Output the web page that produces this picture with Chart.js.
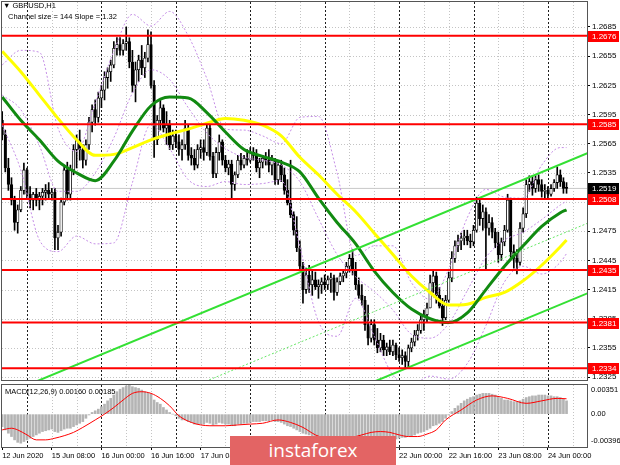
<!DOCTYPE html>
<html>
<head>
<meta charset="utf-8">
<title>GBPUSD,H1</title>
<script src="https://cdn.jsdelivr.net/npm/chart.js@4.4.1/dist/chart.umd.min.js"></script>
<style>
  html, body { margin: 0; padding: 0; background: #fff; }
  #wrap { position: relative; width: 620px; height: 465px; overflow: hidden; background: #fff; }
  canvas { position: absolute; left: 0; }
  #main { top: 0; }
  #macd { top: 383px; }
  .txt { position: absolute; font: 7.5px "Liberation Sans", Arial, sans-serif; color: #000; white-space: nowrap; line-height: 9px; }
  #logo { position: absolute; left: 230px; top: 436px; width: 166px; height: 29px; background: #e36464;
          color: #fff; font: 19px "Open Sans", "Liberation Sans", sans-serif; text-align: center; line-height: 28px; }
</style>
</head>
<body>
<div id="wrap">
  <canvas id="main" width="620" height="382"></canvas>
  <canvas id="macd" width="620" height="82"></canvas>
  <div class="txt" style="left:3px;top:1px">▼ GBPUSD,H1</div>
  <div class="txt" style="left:8px;top:12px">Channel size = 144 Slope = 1.32</div>
  <div class="txt" style="left:5px;top:387px">MACD(12,26,9) 0.00160 0.00185</div>
  <div id="logo">instaforex</div>
</div>
<script>
/* ============ DATA (GBPUSD H1, 12 Jun 16:00 -> 24 Jun 06:00) ============ */
const opens = [
1.2589,1.2574,1.2540,1.2523,1.2507,1.2484,1.2497,1.2517,1.2538,1.2513,
1.2507,1.2513,1.2507,1.2511,1.2515,1.2517,1.2513,1.2515,1.2468,1.2474,
1.2505,1.2538,1.2513,1.2538,1.2559,1.2569,1.2559,1.2548,1.2564,1.2587,
1.2600,1.2592,1.2612,1.2620,1.2633,1.2639,1.2646,1.2663,1.2667,1.2661,
1.2668,1.2670,1.2649,1.2625,1.2641,1.2651,1.2643,1.2653,1.2667,1.2625,
1.2569,1.2589,1.2602,1.2581,1.2584,1.2564,1.2573,1.2567,1.2559,1.2564,
1.2581,1.2553,1.2550,1.2543,1.2559,1.2561,1.2556,1.2581,1.2552,1.2534,
1.2556,1.2567,1.2548,1.2540,1.2544,1.2523,1.2533,1.2548,1.2543,1.2550,
1.2548,1.2556,1.2553,1.2540,1.2546,1.2550,1.2548,1.2543,1.2548,1.2528,
1.2543,1.2533,1.2517,1.2504,1.2492,1.2476,1.2458,1.2439,1.2415,1.2430,
1.2420,1.2425,1.2418,1.2420,1.2423,1.2420,1.2425,1.2427,1.2412,1.2423,
1.2429,1.2432,1.2439,1.2447,1.2435,1.2420,1.2409,1.2404,1.2379,1.2365,
1.2379,1.2363,1.2355,1.2363,1.2353,1.2356,1.2351,1.2358,1.2348,1.2345,
1.2347,1.2341,1.2355,1.2361,1.2368,1.2373,1.2384,1.2389,1.2396,1.2422,
1.2429,1.2409,1.2398,1.2386,1.2404,1.2427,1.2447,1.2460,1.2465,1.2468,
1.2470,1.2465,1.2464,1.2476,1.2504,1.2488,1.2495,1.2478,1.2484,1.2474,
1.2463,1.2451,1.2464,1.2476,1.2507,1.2454,1.2447,1.2443,1.2478,1.2493,
1.2523,1.2526,1.2519,1.2528,1.2523,1.2516,1.2517,1.2513,1.2519,1.2525,
1.2533,1.2526,1.2519];
const highs = [
1.2598,1.2579,1.2550,1.2530,1.2511,1.2502,1.2521,1.2545,1.2540,1.2521,
1.2515,1.2519,1.2515,1.2519,1.2523,1.2525,1.2519,1.2519,1.2481,1.2509,
1.2543,1.2546,1.2543,1.2564,1.2574,1.2579,1.2564,1.2569,1.2592,1.2605,
1.2610,1.2618,1.2625,1.2639,1.2643,1.2651,1.2670,1.2674,1.2674,1.2672,
1.2685,1.2674,1.2661,1.2649,1.2656,1.2666,1.2659,1.2682,1.2680,1.2630,
1.2594,1.2610,1.2605,1.2598,1.2589,1.2579,1.2579,1.2574,1.2569,1.2589,
1.2584,1.2561,1.2559,1.2564,1.2569,1.2569,1.2586,1.2584,1.2556,1.2561,
1.2574,1.2569,1.2553,1.2548,1.2548,1.2536,1.2553,1.2555,1.2553,1.2559,
1.2561,1.2561,1.2559,1.2550,1.2553,1.2556,1.2559,1.2553,1.2550,1.2546,
1.2548,1.2540,1.2528,1.2548,1.2495,1.2490,1.2465,1.2443,1.2437,1.2440,
1.2435,1.2433,1.2425,1.2427,1.2430,1.2429,1.2432,1.2430,1.2427,1.2432,
1.2435,1.2443,1.2451,1.2456,1.2443,1.2427,1.2420,1.2408,1.2399,1.2384,
1.2384,1.2375,1.2370,1.2368,1.2360,1.2363,1.2363,1.2360,1.2355,1.2353,
1.2351,1.2358,1.2365,1.2373,1.2379,1.2388,1.2394,1.2401,1.2430,1.2435,
1.2433,1.2417,1.2406,1.2409,1.2433,1.2454,1.2465,1.2471,1.2473,1.2476,
1.2476,1.2472,1.2481,1.2510,1.2509,1.2502,1.2499,1.2492,1.2489,1.2478,
1.2474,1.2468,1.2481,1.2513,1.2509,1.2461,1.2456,1.2484,1.2499,1.2528,
1.2532,1.2532,1.2532,1.2533,1.2528,1.2523,1.2521,1.2523,1.2528,1.2541,
1.2538,1.2530,1.2525];
const lows = [
1.2569,1.2536,1.2517,1.2502,1.2476,1.2473,1.2495,1.2513,1.2509,1.2499,
1.2497,1.2501,1.2497,1.2502,1.2507,1.2509,1.2507,1.2456,1.2456,1.2470,
1.2502,1.2507,1.2507,1.2533,1.2540,1.2548,1.2540,1.2543,1.2559,1.2577,
1.2584,1.2587,1.2602,1.2610,1.2622,1.2629,1.2643,1.2656,1.2656,1.2656,
1.2661,1.2643,1.2618,1.2608,1.2629,1.2636,1.2633,1.2649,1.2622,1.2551,
1.2564,1.2579,1.2577,1.2564,1.2559,1.2559,1.2561,1.2553,1.2548,1.2559,
1.2548,1.2543,1.2538,1.2540,1.2550,1.2548,1.2553,1.2548,1.2530,1.2530,
1.2548,1.2543,1.2536,1.2533,1.2509,1.2517,1.2530,1.2538,1.2540,1.2543,
1.2546,1.2548,1.2536,1.2530,1.2540,1.2543,1.2536,1.2533,1.2523,1.2523,
1.2526,1.2513,1.2502,1.2489,1.2471,1.2454,1.2435,1.2401,1.2411,1.2412,
1.2409,1.2415,1.2406,1.2411,1.2415,1.2415,1.2412,1.2404,1.2409,1.2420,
1.2423,1.2427,1.2433,1.2430,1.2415,1.2406,1.2399,1.2373,1.2358,1.2361,
1.2358,1.2350,1.2351,1.2347,1.2347,1.2348,1.2347,1.2343,1.2341,1.2338,
1.2334,1.2334,1.2351,1.2357,1.2363,1.2370,1.2373,1.2382,1.2396,1.2412,
1.2401,1.2396,1.2378,1.2384,1.2402,1.2423,1.2443,1.2454,1.2456,1.2461,
1.2461,1.2458,1.2460,1.2474,1.2481,1.2476,1.2435,1.2471,1.2468,1.2458,
1.2443,1.2445,1.2460,1.2474,1.2448,1.2437,1.2431,1.2440,1.2474,1.2489,
1.2516,1.2512,1.2515,1.2516,1.2510,1.2509,1.2509,1.2511,1.2516,1.2519,
1.2521,1.2514,1.2514];
const closes = [
1.2574,1.2540,1.2523,1.2507,1.2484,1.2497,1.2517,1.2538,1.2513,1.2507,
1.2513,1.2507,1.2511,1.2515,1.2517,1.2513,1.2515,1.2468,1.2474,1.2505,
1.2538,1.2513,1.2538,1.2559,1.2569,1.2559,1.2548,1.2564,1.2587,1.2600,
1.2592,1.2612,1.2620,1.2633,1.2639,1.2646,1.2663,1.2667,1.2661,1.2668,
1.2670,1.2649,1.2625,1.2641,1.2651,1.2643,1.2653,1.2667,1.2625,1.2569,
1.2589,1.2602,1.2581,1.2584,1.2564,1.2573,1.2567,1.2559,1.2564,1.2581,
1.2553,1.2550,1.2543,1.2559,1.2561,1.2556,1.2581,1.2552,1.2534,1.2556,
1.2567,1.2548,1.2540,1.2544,1.2523,1.2533,1.2548,1.2543,1.2550,1.2548,
1.2556,1.2553,1.2540,1.2546,1.2550,1.2548,1.2543,1.2548,1.2528,1.2543,
1.2533,1.2517,1.2504,1.2492,1.2476,1.2458,1.2439,1.2415,1.2430,1.2420,
1.2425,1.2418,1.2420,1.2423,1.2420,1.2425,1.2427,1.2412,1.2423,1.2429,
1.2432,1.2439,1.2447,1.2435,1.2420,1.2409,1.2404,1.2379,1.2365,1.2379,
1.2363,1.2355,1.2363,1.2353,1.2356,1.2351,1.2358,1.2348,1.2345,1.2347,
1.2341,1.2355,1.2361,1.2368,1.2373,1.2384,1.2389,1.2396,1.2422,1.2429,
1.2409,1.2398,1.2386,1.2404,1.2427,1.2447,1.2460,1.2465,1.2468,1.2470,
1.2465,1.2464,1.2476,1.2504,1.2488,1.2495,1.2478,1.2484,1.2474,1.2463,
1.2451,1.2464,1.2476,1.2507,1.2454,1.2447,1.2443,1.2478,1.2493,1.2523,
1.2526,1.2519,1.2528,1.2523,1.2516,1.2517,1.2513,1.2519,1.2525,1.2533,
1.2526,1.2519,1.2519];

const maBars   = [0,6,12,18,24,30,36,42,48,54,60,66,72,78,84,90,96,102,108,114,120,126,132,138,144,150,156,162,168,174,180,182];
const maGreen  = [1.2613,1.2589,1.2569,1.2547,1.2535,1.2527,1.2547,1.2578,1.2604,1.2613,1.2612,1.2597,1.2577,1.2559,1.2552,1.2546,
                  1.2536,1.2509,1.2484,1.2462,1.2434,1.2412,1.2395,1.2385,1.2381,1.2391,1.2415,1.2439,1.2460,1.2480,1.2494,1.2497];
const maYellow = [1.2660,1.2639,1.2615,1.2591,1.2569,1.2553,1.2554,1.2561,1.2569,1.2575,1.2580,1.2586,1.2591,1.2589,1.2584,1.2573,
                  1.2551,1.2533,1.2513,1.2495,1.2473,1.2451,1.2429,1.2412,1.2399,1.2400,1.2407,1.2412,1.2424,1.2440,1.2459,1.2466];
const bbUpper  = [1.2646,1.2661,1.2659,1.2581,1.2557,1.2607,1.2660,1.2698,1.2686,1.2701,1.2676,1.2632,1.2580,1.2579,1.2573,1.2565,
                  1.2592,1.2593,1.2535,1.2450,1.2460,1.2460,1.2422,1.2405,1.2436,1.2489,1.2518,1.2510,1.2509,1.2543,1.2561,1.2561];
const bbMiddle = [1.2615,1.2600,1.2563,1.2516,1.2516,1.2535,1.2571,1.2617,1.2641,1.2631,1.2602,1.2576,1.2560,1.2551,1.2548,1.2543,
                  1.2526,1.2488,1.2451,1.2428,1.2413,1.2394,1.2369,1.2365,1.2380,1.2414,1.2448,1.2466,1.2474,1.2487,1.2502,1.2506];
const bbLower  = [1.2584,1.2538,1.2466,1.2454,1.2470,1.2462,1.2463,1.2525,1.2585,1.2560,1.2528,1.2521,1.2526,1.2523,1.2524,1.2527,
                  1.2459,1.2382,1.2367,1.2406,1.2367,1.2327,1.2317,1.2326,1.2323,1.2339,1.2378,1.2423,1.2439,1.2431,1.2443,1.2452];

// regression channel (144 pips wide, slope 1.32 pips/bar)
const channelBars  = [0, 189];
const channelUpper = [1.2306, 1.25555];
const channelMid   = [1.2234, 1.24835];
const channelLower = [1.2162, 1.24115];

const levels = [1.2676, 1.2585, 1.2508, 1.2435, 1.2381, 1.2334];
const bid = 1.2519;

// MACD(12,26,9), in units of 0.0001
const macdHist = [
-15,-19,-23,-27,-31,-34,-35,-33,-31,-29,
-27,-25,-23,-21,-20,-19,-18,-21,-22,-20,
-18,-17,-17,-15,-13,-11,-9,-5,-1,2,
4,6,9,12,16,19,23,27,30,32,
34,35.1,33,32,31,29,27,26,24,17,
14,12,8,5,2,0,-2,-5,-7,-7,
-9,-10,-12,-12,-12,-12,-10,-11,-13,-12,
-10,-11,-12,-12,-14,-14,-12,-12,-11,-11,
-10,-9,-9,-9,-8,-8,-8,-7,-9,-9,
-10,-12,-14,-15,-17,-19,-21,-23,-24,-25,
-26,-27,-30,-32,-35,-37,-38,-39.6,-39,-37,
-35,-32,-29,-27,-26,-26,-27,-29,-31,-31,
-32,-33,-33,-33,-32,-32,-31,-30,-29,-28,
-28,-27,-26,-25,-23,-22,-21,-19,-17,-14,
-13,-11,-9,-5,-1,3,7,10,13,16,
18,20,21,23,24,25,25,25,24,23,
21,19,17,17,16,15,15,16,18,20,
21,22,22,23,23,23,22,22,21,21,
20,18,16];
const signalBars = [0,3,5,8,11,14,17,20,23,26,30,33,36,39,42,45,48,51,54,57,61,64,67,72,76,80,84,89,93,97,
                    101,104,107,110,113,116,119,122,125,128,131,134,137,140,143,148,153,158,163,169,174,179,182];
const macdSignal = [-19,-17,-19,-25,-31,-31,-29,-26,-22,-16,-7,0,8,17,25,27,25,19,10,-2,-10,-13,-14,-14,-13,-12,-11,-7,-10,-16,
                    -25,-29,-31,-31,-28,-25,-22,-21,-22,-25,-27,-27,-24,-19,-7,5,17,22,19,13,16,19,18.5];

// axes
const priceTicks = [1.2685,1.2655,1.2625,1.2595,1.2565,1.2535,1.2505,1.2475,1.2445,1.2415,1.2385,1.2355,1.2325];
const macdTicks = [0.00351, 0, -0.00396];
const macdTickLabels = ['0.00351', '0.00', '-0.00396'];
const labelBars = [0,16,32,48,64,80,96,112,128,144,160,176];
const timeLabels = ['12 Jun 2020','15 Jun 08:00','16 Jun 00:00','16 Jun 16:00','17 Jun 08:00','18 Jun 00:00',
                    '18 Jun 16:00','19 Jun 08:00','22 Jun 00:00','22 Jun 16:00','23 Jun 08:00','24 Jun 00:00'];
const gridBars = [16,24,40,48,64,72,88,96,112,120,136,144,160,168,184];
const daySeps = [8,32,56,80,104,128,152,176];

/* ===================== CHARTS ===================== */
const FONT = '"Liberation Sans", Arial, sans-serif';
Chart.defaults.font.family = FONT;
const X_MIN = -0.06, X_MAX = 188.6;
const P_MIN = 1.23220, P_MAX = 1.27107;
const M_MIN = -0.00396, M_MAX = 0.00351;
const MACD_UNIT = 1e-4;

const pts = (xs, ys, k = 1) => xs.map((b, i) => ({x: b, y: ys[i] * k}));
const flat = v => [{x: X_MIN, y: v}, {x: X_MAX, y: v}];
const line = (data, color, width, order, extra) => Object.assign(
  {type: 'line', data, borderColor: color, borderWidth: width, pointRadius: 0, order, clip: 0}, extra || {});
// keep the plot area exactly where MT4 puts it (no room reserved for half labels)
const noPad = s => { s.paddingTop = 0; s.paddingBottom = 0; };

// grid, day separators and pane frame (MT4 look)
const paneDecor = {
  id: 'paneDecor',
  beforeDatasetsDraw(chart, args, opts) {
    const {ctx, chartArea: a, scales: {x, y}} = chart;
    ctx.save();
    ctx.beginPath(); ctx.rect(a.left, a.top, a.right - a.left, a.bottom - a.top); ctx.clip();
    ctx.lineWidth = 1;
    ctx.setLineDash([1, 2]); ctx.strokeStyle = '#c4c4c4';
    (opts.hTicks || []).forEach(v => {
      const py = Math.round(y.getPixelForValue(v)) + 0.5;
      ctx.beginPath(); ctx.moveTo(a.left, py); ctx.lineTo(a.right, py); ctx.stroke();
    });
    gridBars.forEach(b => {
      const px = Math.round(x.getPixelForValue(b)) + 0.5;
      ctx.beginPath(); ctx.moveTo(px, a.top); ctx.lineTo(px, a.bottom); ctx.stroke();
    });
    ctx.setLineDash([2, 2]); ctx.strokeStyle = '#1e1e1e';
    daySeps.forEach(b => {
      const px = Math.round(x.getPixelForValue(b)) + 0.5;
      ctx.beginPath(); ctx.moveTo(px, a.top); ctx.lineTo(px, a.bottom); ctx.stroke();
    });
    ctx.restore();
  },
  afterDraw(chart) {
    const {ctx, chartArea: a} = chart;
    ctx.save();
    ctx.strokeStyle = '#555'; ctx.lineWidth = 1;
    ctx.strokeRect(a.left - 0.5, a.top - 0.5, a.right - a.left + 1, a.bottom - a.top + 1);
    ctx.restore();
  }
};

const priceTags = {
  id: 'priceTags',
  afterDraw(chart) {
    const {ctx, chartArea: a, scales: {y}} = chart;
    ctx.save();
    ctx.font = '8px ' + FONT; ctx.textBaseline = 'middle'; ctx.textAlign = 'left';
    const tag = (v, bg) => {
      const py = Math.round(y.getPixelForValue(v));
      ctx.fillStyle = bg; ctx.fillRect(a.right + 1, py - 5, 31, 11);
      ctx.fillStyle = '#fff'; ctx.fillText(v.toFixed(4), a.right + 5, py + 0.5);
    };
    levels.forEach(v => tag(v, '#ff0000'));
    tag(bid, '#000');
    ctx.restore();
  }
};

const macdTags = {
  id: 'macdTags',
  afterDraw(chart) {
    const {ctx, chartArea: a, scales: {y}} = chart;
    ctx.save();
    ctx.font = '7.5px ' + FONT; ctx.fillStyle = '#000'; ctx.textBaseline = 'middle';
    macdTicks.forEach((v, k) => {
      const py = Math.min(Math.max(y.getPixelForValue(v), a.top + 5), a.bottom - 6);
      ctx.fillText(macdTickLabels[k], a.right + 4, py);
    });
    ctx.restore();
  }
};

const xLinear = {type: 'linear', min: X_MIN, max: X_MAX, offset: false, grid: {offset: false}};

new Chart(document.getElementById('main'), {
  type: 'bar',
  data: {
    datasets: [
      ...levels.map(v => line(flat(v), '#ff0000', 2, 0)),
      line(pts(channelBars, channelUpper), '#33e033', 2, 1),
      line(pts(channelBars, channelMid), '#66e666', 1, 1, {borderDash: [2, 2]}),
      line(pts(channelBars, channelLower), '#33e033', 2, 1),
      line(pts(maBars, maGreen), '#118a11', 3, 2, {cubicInterpolationMode: 'monotone'}),
      line(pts(maBars, maYellow), '#ffff00', 3, 2, {cubicInterpolationMode: 'monotone'}),
      line(pts(maBars, bbUpper), '#c58ee6', 1, 3, {borderDash: [2, 2], cubicInterpolationMode: 'monotone'}),
      line(pts(maBars, bbMiddle), '#c58ee6', 1, 3, {borderDash: [2, 2], cubicInterpolationMode: 'monotone'}),
      line(pts(maBars, bbLower), '#c58ee6', 1, 3, {borderDash: [2, 2], cubicInterpolationMode: 'monotone'}),
      { // candle bodies
        type: 'bar', grouped: false, order: 4,
        data: closes.map((c, i) => ({x: i, y: [opens[i], c]})),
        backgroundColor: closes.map((c, i) => c > opens[i] ? '#ffffff' : '#000000'),
        borderColor: '#000', borderWidth: 0.8, borderSkipped: false, barThickness: 2.6, minBarLength: 1
      },
      { // wicks
        type: 'bar', grouped: false, order: 5,
        data: closes.map((c, i) => ({x: i, y: [lows[i], highs[i]]})),
        backgroundColor: '#000', barThickness: 1, minBarLength: 1
      },
      line(flat(bid), '#c8c8c8', 1, 9)
    ]
  },
  options: {
    responsive: false, animation: false, events: [],
    layout: {padding: {left: 2, top: 2, right: 0, bottom: 2}},
    plugins: {legend: {display: false}, tooltip: {enabled: false}, paneDecor: {hTicks: priceTicks}},
    scales: {
      x: Object.assign({display: false}, xLinear),
      y: {
        position: 'right', min: P_MIN, max: P_MAX, beginAtZero: false,
        afterBuildTicks: s => { s.ticks = priceTicks.map(v => ({value: v})); },
        afterFit: s => { s.width = 33; noPad(s); },
        grid: {drawOnChartArea: false, drawTicks: true, tickLength: 3, tickColor: '#000'},
        border: {display: true, color: '#000'},
        ticks: {color: '#000', padding: 2, font: {size: 8}, callback: v => v.toFixed(4)}
      }
    }
  },
  plugins: [paneDecor, priceTags]
});

new Chart(document.getElementById('macd'), {
  type: 'bar',
  data: {
    datasets: [
      line(pts(signalBars, macdSignal, MACD_UNIT), '#ff0000', 1, 1, {cubicInterpolationMode: 'monotone'}),
      {type: 'bar', grouped: false, order: 2, data: pts(macdHist.map((v, i) => i), macdHist, MACD_UNIT),
       backgroundColor: '#b4b4b4', barThickness: 2}
    ]
  },
  options: {
    responsive: false, animation: false, events: [],
    layout: {padding: {left: 2, top: 2, right: 0, bottom: 0}},
    plugins: {legend: {display: false}, tooltip: {enabled: false}, paneDecor: {}},
    scales: {
      x: Object.assign({}, xLinear, {
        position: 'bottom',
        afterBuildTicks: s => { s.ticks = labelBars.map(v => ({value: v})); },
        afterFit: s => { s.height = 18; },
        grid: {offset: false, drawOnChartArea: false, drawTicks: true, tickLength: 3, tickColor: '#000'},
        border: {display: true, color: '#000'},
        ticks: {color: '#000', font: {size: 7.5}, padding: 1, align: 'start', maxRotation: 0, minRotation: 0,
                autoSkip: false, callback: (v, i) => timeLabels[i]}
      }),
      y: {
        position: 'right', min: M_MIN, max: M_MAX, beginAtZero: false,
        afterFit: s => { s.width = 33; noPad(s); },
        grid: {drawOnChartArea: false, drawTicks: false},
        border: {display: true, color: '#000'},
        ticks: {display: false}
      }
    }
  },
  plugins: [paneDecor, macdTags]
});
</script>
</body>
</html>
